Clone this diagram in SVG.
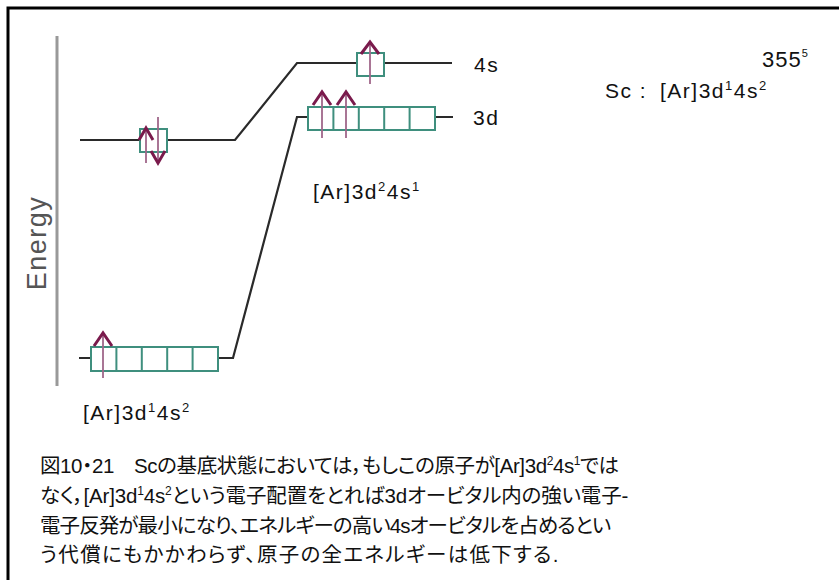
<svg xmlns="http://www.w3.org/2000/svg" width="839" height="580" viewBox="0 0 839 580">
<style>
.lvl{fill:none;stroke:#2a2a2a;stroke-width:2.2}
.box{fill:none;stroke:#3f8f7e;stroke-width:2}
.stem{stroke:#a0668a;stroke-width:1.8}
.head{fill:none;stroke:#7a1a4c;stroke-width:3}
.lab{font-family:"Liberation Sans",Arial,sans-serif;font-size:21px;letter-spacing:1.5px;fill:#111}
.sup{font-size:13px}
.cap{font-family:"Liberation Sans","Noto Sans CJK JP",sans-serif;font-size:20.5px;font-feature-settings:"palt";fill:#111}
.csup{font-size:12px}
</style>
<rect x="0" y="0" width="839" height="580" fill="#fff"/>
<rect x="8" y="8" width="900" height="700" fill="none" stroke="#000" stroke-width="3"/>
<line x1="57" y1="36" x2="57" y2="386" stroke="#999" stroke-width="3"/>
<text transform="translate(46,243) rotate(-90)" text-anchor="middle" font-family="Liberation Sans,Arial,sans-serif" font-size="27" letter-spacing="1.5" fill="#555">Energy</text>
<text x="762" y="67" font-family="Liberation Sans,Arial,sans-serif" font-size="22" letter-spacing="1" fill="#111">355<tspan font-size="11" dy="-10">5</tspan></text>
<g id="connectors">
<path class="lvl" d="M80,140 H140 M167,140 H235 L297,63 H357 M384,63 H452"/>
<path class="lvl" d="M79,358 H91 M218,358 H233 L297,117 H308 M435,117 H453"/>
</g>
<g id="ground-4s">
<rect class="box" x="140" y="129" width="27" height="23"/>
<line class="stem" x1="146" y1="163" x2="146" y2="129"/>
<polyline class="head" points="139,140 146,128 153,140"/>
<line class="stem" x1="158" y1="117" x2="158" y2="161"/>
<polyline class="head" points="151,151 158,163 165,151"/>
</g>
<g id="ground-3d">
<rect class="box" x="91" y="347" width="127" height="24"/>
<path class="box" d="M116.4,347 V371 M141.8,347 V371 M167.2,347 V371 M192.6,347 V371"/>
<line class="stem" x1="103" y1="378" x2="103" y2="334"/>
<polyline class="head" points="94,346 103,333 112,346"/>
</g>
<g id="excited-4s">
<rect class="box" x="357" y="53" width="27" height="23"/>
<line class="stem" x1="370" y1="84" x2="370" y2="43"/>
<polyline class="head" points="361,54 370,42 379,54"/>
</g>
<g id="excited-3d">
<rect class="box" x="308" y="107" width="127" height="23"/>
<path class="box" d="M333.4,107 V130 M358.8,107 V130 M384.2,107 V130 M409.6,107 V130"/>
<line class="stem" x1="322" y1="138" x2="322" y2="93"/>
<polyline class="head" points="313,105 322,92 331,105"/>
<line class="stem" x1="346" y1="138" x2="346" y2="93"/>
<polyline class="head" points="337,105 346,92 355,105"/>
</g>
<g id="labels">
<text class="lab" x="474" y="72">4s</text>
<text class="lab" x="473" y="125">3d</text>
<text class="lab" x="605" y="98">Sc :<tspan x="660">[Ar]3d</tspan><tspan class="sup" dy="-8">1</tspan><tspan dy="8">4s</tspan><tspan class="sup" dy="-8">2</tspan></text>
<text class="lab" x="313" y="199">[Ar]3d<tspan class="sup" dy="-8">2</tspan><tspan dy="8">4s</tspan><tspan class="sup" dy="-8">1</tspan></text>
<text class="lab" x="83" y="420">[Ar]3d<tspan class="sup" dy="-8">1</tspan><tspan dy="8">4s</tspan><tspan class="sup" dy="-8">2</tspan></text>
</g>
<g id="caption">
<text class="cap" x="40" y="473" letter-spacing="-0.4">図10・21　Scの基底状態においては，もしこの原子が[Ar]3d<tspan class="csup" dy="-8">2</tspan><tspan dy="8">4s</tspan><tspan class="csup" dy="-8">1</tspan><tspan dy="8">では</tspan></text>
<text class="cap" x="40" y="503" letter-spacing="-0.15">なく，[Ar]3d<tspan class="csup" dy="-8">1</tspan><tspan dy="8">4s</tspan><tspan class="csup" dy="-8">2</tspan><tspan dy="8">という電子配置をとれば3dオービタル内の強い電子-</tspan></text>
<text class="cap" x="40" y="533" letter-spacing="-0.9">電子反発が最小になり、エネルギーの高い4sオービタルを占めるとい</text>
<text class="cap" x="40" y="562" letter-spacing="1.3">う代償にもかかわらず、原子の全エネルギーは低下する.</text>
</g>
</svg>
